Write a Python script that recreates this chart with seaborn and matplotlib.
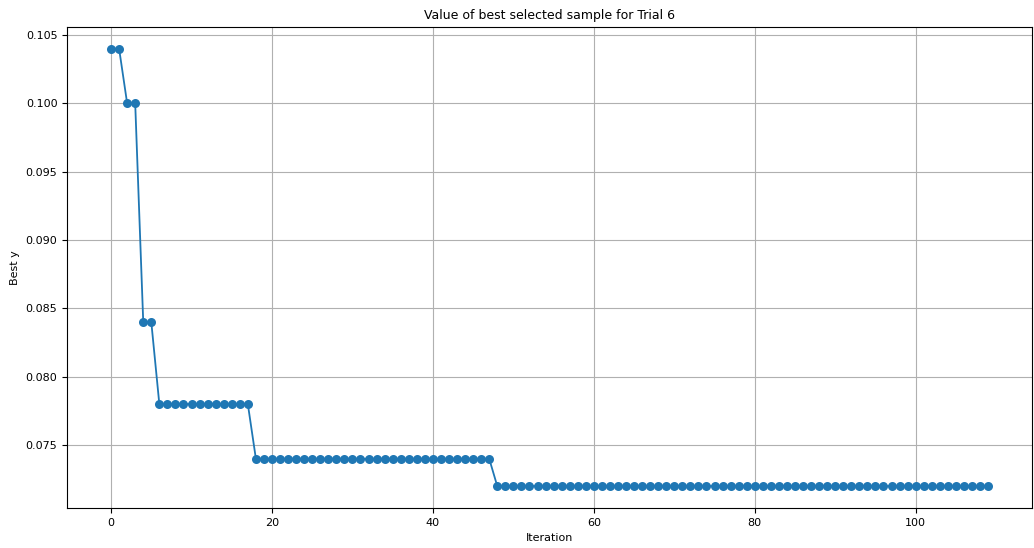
import matplotlib
matplotlib.use("Agg")
import matplotlib.pyplot as plt
import seaborn as sns
import numpy as np
import pandas as pd

# Data
iterations = list(range(110))
best_y = ([0.104] * 2 + [0.100] * 2 + [0.084] * 2 + [0.078] * 12 +
          [0.074] * 30 + [0.072] * 62)

df = pd.DataFrame({"Iteration": iterations, "Best y": best_y})

plt.rcParams['font.family'] = ['DejaVu Sans']
plt.rcParams['font.size'] = 8

fig, ax = plt.subplots(figsize=(10.34, 5.48), dpi=100)
fig.subplots_adjust(left=0.065, right=0.998, top=0.951, bottom=0.073)

sns.lineplot(data=df, x="Iteration", y="Best y", ax=ax, color="#1f77b4",
             marker="o", markersize=6.5, markeredgewidth=0, linewidth=1.3)

ax.grid(True, color="#b0b0b0", linewidth=0.8)
ax.set_axisbelow(True)
ax.set_title("Value of best selected sample for Trial 6", fontsize=9)
ax.set_xlabel("Iteration", fontsize=8)
ax.set_ylabel("Best y", fontsize=8)
ax.tick_params(labelsize=8)
ax.set_xticks([0, 20, 40, 60, 80, 100])
ax.set_yticks([0.075, 0.080, 0.085, 0.090, 0.095, 0.100, 0.105])
ax.yaxis.set_major_formatter(matplotlib.ticker.FormatStrFormatter('%.3f'))

fig.savefig("out.png", dpi=100)
